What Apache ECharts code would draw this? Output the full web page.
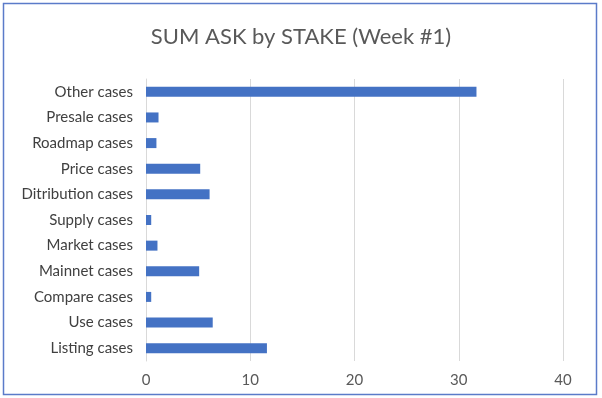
<!DOCTYPE html>
<html><head><meta charset="utf-8">
<script src="https://cdn.jsdelivr.net/npm/echarts@6/dist/echarts.min.js"></script>
<style>html,body{margin:0;padding:0;background:#fff}#c{width:602px;height:398px}</style>
</head><body><div id="c"></div>
<script>
const categories = ["Listing cases","Use cases","Compare cases","Mainnet cases","Market cases","Supply cases","Ditribution cases","Price cases","Roadmap cases","Presale cases","Other cases"];
const values = [11.6, 6.4, 0.5, 5.1, 1.1, 0.5, 6.1, 5.2, 1.0, 1.2, 31.7];
const xTicks = [0, 10, 20, 30, 40];
const chart = echarts.init(document.getElementById('c'));
chart.setOption({
  animation: false,
  title: { text: 'SUM ASK by STAKE (Week #1)', left: 'center', top: 21,
    textStyle: { fontFamily: 'Lato', fontSize: 22, fontWeight: 'normal', color: '#595959' } },
  graphic: [{ type: 'rect', shape: { x: 3.5, y: 3.5, width: 593, height: 391 },
    style: { fill: 'none', stroke: '#5b7bc9', lineWidth: 1.5 } }],
  grid: { left: 146, right: 39, top: 79, bottom: 37 },
  xAxis: { type: 'value', min: xTicks[0], max: xTicks[xTicks.length-1], interval: 10,
    axisLine: { show: false }, axisTick: { show: false },
    axisLabel: { color: '#595959', fontSize: 15, fontFamily: 'Lato', margin: 12 },
    splitLine: { lineStyle: { color: '#d9d9d9', width: 1 } } },
  yAxis: { type: 'category', data: categories,
    axisLine: { lineStyle: { color: '#d9d9d9' } }, axisTick: { show: false },
    axisLabel: { color: '#404040', fontSize: 15, fontFamily: 'Lato', margin: 13 } },
  series: [{ type: 'bar', data: values, barWidth: 10, itemStyle: { color: '#4472c4' } }]
});
</script></body></html>
